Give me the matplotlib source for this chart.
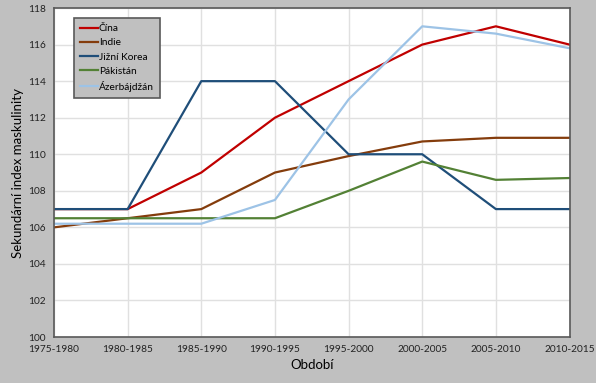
import matplotlib.pyplot as plt

plt.rcParams["font.family"] = ["Lato", "DejaVu Sans"]

periods = ["1975-1980", "1980-1985", "1985-1990", "1990-1995",
           "1995-2000", "2000-2005", "2005-2010", "2010-2015"]

cina = [107.0, 107.0, 109.0, 112.0, 114.0, 116.0, 117.0, 116.0]
indie = [106.0, 106.5, 107.0, 109.0, 109.9, 110.7, 110.9, 110.9]
korea = [107.0, 107.0, 114.0, 114.0, 110.0, 110.0, 107.0, 107.0]
pakistan = [106.5, 106.5, 106.5, 106.5, 108.0, 109.6, 108.6, 108.7]
azerbajdzan = [106.2, 106.2, 106.2, 107.5, 113.0, 117.0, 116.6, 115.8]

series = [
    ("Čína", cina, "#C00000"),
    ("Indie", indie, "#843C0C"),
    ("Jižní Korea", korea, "#1F4E79"),
    ("Pákistán", pakistan, "#538135"),
    ("Ázerbájdžán", azerbajdzan, "#9DC3E6"),
]

fig = plt.figure(figsize=(5.96, 3.83), dpi=100)
fig.patch.set_facecolor("#C0C0C0")
ax = fig.add_axes([0.0906, 0.12, 0.865, 0.859])
ax.set_facecolor("white")

x = list(range(len(periods)))
for name, vals, col in series:
    ax.plot(x, vals, color=col, lw=1.6, label=name)

ax.set_xlim(0, len(periods) - 1)
ax.set_ylim(100, 118)
ax.set_yticks(range(100, 119, 2))
ax.set_xticks(x)
ax.set_xticklabels(periods)
ax.grid(True, color="#E0E0E0", lw=1)
ax.set_axisbelow(True)
ax.tick_params(length=0, labelsize=7.3, colors="#222222", pad=6)
for s in ax.spines.values():
    s.set_color("#595959")
    s.set_linewidth(1.2)

ax.set_xlabel("Období", fontsize=9.5, labelpad=3)
ax.set_ylabel("Sekundární index maskulinity", fontsize=9.5, labelpad=3)

leg = ax.legend(loc="upper left", bbox_to_anchor=(0.028, 0.985), fontsize=7.3,
                frameon=True, fancybox=False, handlelength=1.8,
                handletextpad=0.1, labelspacing=0.5, borderpad=0.6)
leg.get_frame().set_facecolor("#C0C0C0")
leg.get_frame().set_edgecolor("#595959")
leg.get_frame().set_linewidth(1.2)
leg.get_frame().set_alpha(1)

fig.savefig("out.png", dpi=100, facecolor=fig.get_facecolor())
